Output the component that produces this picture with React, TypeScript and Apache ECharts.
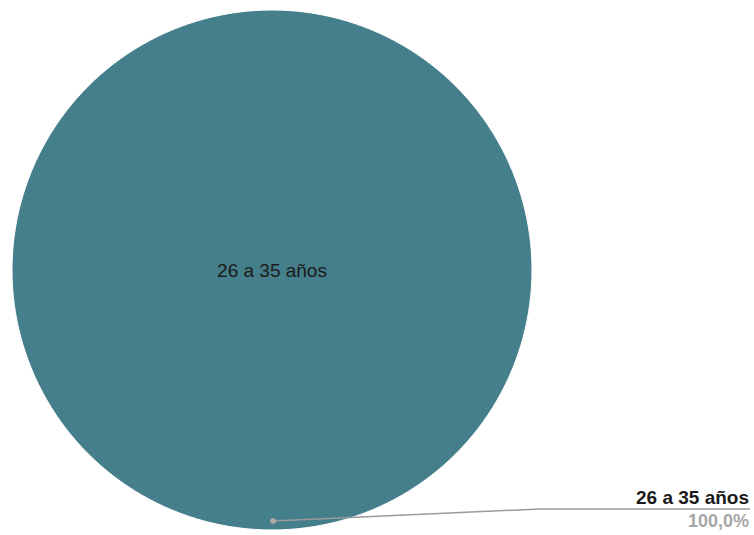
import React, { useEffect, useRef } from "react";
import * as echarts from "echarts";

const categories: string[] = ["26 a 35 años"];
const values: number[] = [100];
const percentLabels: string[] = ["100,0%"];

const FONT = "'Liberation Sans', Arial, sans-serif";

export default function App() {
  const ref = useRef<HTMLDivElement>(null);
  useEffect(() => {
    document.body.style.margin = "0";
    if (!ref.current) return;
    const chart = echarts.init(ref.current, undefined, { renderer: "svg" });
    const data = categories.map((c, i) => ({ name: c, value: values[i] }));
    chart.setOption({
      animation: false,
      backgroundColor: "#ffffff",
      series: [
        {
          type: "pie",
          center: [272, 270],
          radius: [0, 260],
          startAngle: 90,
          data,
          silent: true,
          itemStyle: { color: "#467F8C", borderColor: "#ffffff", borderWidth: 1 },
          label: {
            show: true,
            position: "center",
            formatter: "{b}",
            color: "#1a1a1a",
            fontFamily: FONT,
            fontSize: 19,
          },
          labelLine: { show: false },
        },
        {
          type: "pie",
          center: [272, 270],
          radius: [0, 260],
          startAngle: 90,
          data,
          silent: true,
          z: 5,
          itemStyle: { color: "transparent" },
          label: {
            show: true,
            position: "outside",
            formatter: (p: any) => `{a|${p.name}}\n{b|${percentLabels[p.dataIndex]}}`,
            fontFamily: FONT,
            rich: {
              a: { fontFamily: FONT, fontSize: 19, fontWeight: "bold", color: "#1a1a1a", lineHeight: 24, align: "right" },
              b: { fontFamily: FONT, fontSize: 18, fontWeight: "bold", color: "#a6a6a6", lineHeight: 24, align: "right" },
            },
          },
          labelLine: { show: true, lineStyle: { color: "#9a9a9a", width: 1.5 } },
          labelLayout: () => ({
            x: 749,
            y: 509,
            align: "right",
            verticalAlign: "middle",
            labelLinePoints: [
              [273, 521],
              [540, 509],
              [750, 509],
            ],
          }),
        },
      ],
      graphic: [
        {
          type: "circle",
          z: 100,
          shape: { cx: 273, cy: 521, r: 3 },
          style: { fill: "#b4a8a8" },
        },
      ],
    });
    return () => chart.dispose();
  }, []);
  return <div ref={ref} style={{ width: 754, height: 535 }} />;
}
